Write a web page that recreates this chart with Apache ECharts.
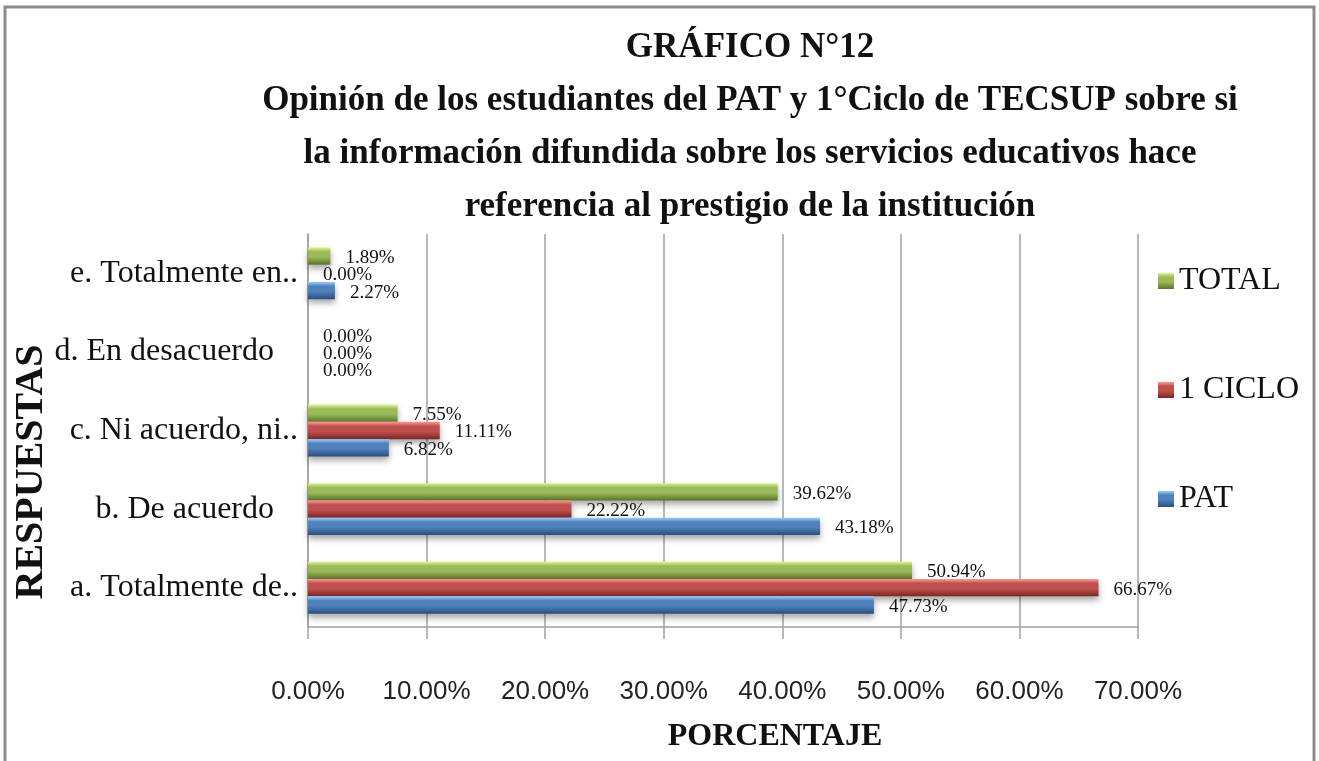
<!DOCTYPE html>
<html>
<head>
<meta charset="utf-8">
<script src="https://cdn.jsdelivr.net/npm/echarts@6/dist/echarts.min.js"></script>
<style>
  html, body { margin: 0; padding: 0; background: #fff; }
  #chart { width: 1319px; height: 761px; }
</style>
</head>
<body>
<div id="chart"></div>
<script>
const categories = [
  'a. Totalmente de..',
  'b. De acuerdo   ',
  'c. Ni acuerdo, ni..',
  'd. En desacuerdo   ',
  'e. Totalmente en..',
]
const patValues = [47.73, 43.18, 6.82, 0, 2.27]
const cicloValues = [66.67, 22.22, 11.11, 0, 0]
const totalValues = [50.94, 39.62, 7.55, 0, 1.89]
const xTicks = [0, 10, 20, 30, 40, 50, 60, 70]

const serif = '"Liberation Serif", "Times New Roman", serif'

function grad(light, mid, dark) {
  return new echarts.graphic.LinearGradient(0, 0, 0, 1, [
    { offset: 0, color: light },
    { offset: 0.25, color: mid },
    { offset: 0.55, color: mid },
    { offset: 1, color: dark },
  ])
}

function barSeries(name, data, color) {
  return {
    name: name,
    type: 'bar',
    data: data,
    barGap: '0%',
    barCategoryGap: '34%',
    itemStyle: {
      color: color,
      shadowBlur: 6,
      shadowOffsetY: 4,
      shadowColor: 'rgba(0,0,0,0.35)',
    },
    label: {
      show: true,
      position: 'right',
      distance: 15,
      offset: [0, 2],
      fontFamily: serif,
      fontSize: 19,
      color: '#111',
      formatter: (p) => p.value.toFixed(2) + '%',
    },
  }
}

const chart = echarts.init(document.getElementById('chart'))
chart.setOption({
  animation: false,
  backgroundColor: '#fff',
  title: {
    text: 'GRÁFICO N°12\nOpinión de los estudiantes del PAT y 1°Ciclo de TECSUP sobre si\nla información difundida sobre los servicios educativos hace\nreferencia al prestigio de la institución',
    left: 745,
    textAlign: 'center',
    top: 16,
    textStyle: {
      fontFamily: serif,
      fontWeight: 'bold',
      fontSize: 35,
      lineHeight: 53,
      color: '#111',
    },
  },
  graphic: [
    {
      type: 'rect',
      shape: { x: 5, y: 7, width: 1309, height: 780 },
      style: { fill: 'none', stroke: '#8c8c8c', lineWidth: 3 },
      silent: true,
    },
    {
      type: 'text',
      x: 32,
      y: 472,
      rotation: Math.PI / 2,
      style: {
        text: 'RESPUESTAS',
        fontFamily: serif,
        fontWeight: 'bold',
        fontSize: 40,
        fill: '#111',
        align: 'center',
        verticalAlign: 'middle',
      },
    },
    {
      type: 'text',
      x: 775,
      y: 737,
      style: {
        text: 'PORCENTAJE',
        fontFamily: serif,
        fontWeight: 'bold',
        fontSize: 32,
        fill: '#111',
        align: 'center',
        verticalAlign: 'middle',
      },
    },
  ],
  legend: {
    orient: 'vertical',
    left: 1153,
    top: 260,
    icon: 'rect',
    itemWidth: 16,
    itemHeight: 16,
    itemGap: 77,
    data: ['TOTAL', '1 CICLO', 'PAT'],
    textStyle: { fontFamily: serif, fontSize: 32, color: '#111' },
  },
  grid: {
    left: 308,
    right: 181,
    top: 234,
    bottom: 134,
  },
  xAxis: {
    type: 'value',
    min: xTicks[0],
    max: xTicks[xTicks.length - 1],
    interval: 10,
    axisLine: { show: true, lineStyle: { color: '#a0a0a0', width: 1.5 } },
    axisTick: { show: true, length: 12, lineStyle: { color: '#a0a0a0', width: 1.5 } },
    splitLine: { show: true, lineStyle: { color: '#a0a0a0', width: 1.5 } },
    axisLabel: {
      margin: 52,
      fontFamily: '"Liberation Sans", Arial, sans-serif',
      fontSize: 26,
      color: '#222',
      formatter: (v) => v.toFixed(2) + '%',
    },
  },
  yAxis: {
    type: 'category',
    data: categories,
    axisLine: { show: true, lineStyle: { color: '#a0a0a0', width: 1.5 } },
    axisTick: { show: false },
    axisLabel: {
      margin: 10,
      fontFamily: serif,
      fontSize: 32,
      color: '#111',
    },
  },
  series: [
    barSeries('TOTAL', totalValues, grad('#e2f59a', '#9bbb59', '#5a7429')),
    barSeries('1 CICLO', cicloValues, grad('#ff9a96', '#c0504d', '#7a2624')),
    barSeries('PAT', patValues, grad('#9cd0ff', '#4f81bd', '#2b4f7e')),
  ],
})
</script>
</body>
</html>
